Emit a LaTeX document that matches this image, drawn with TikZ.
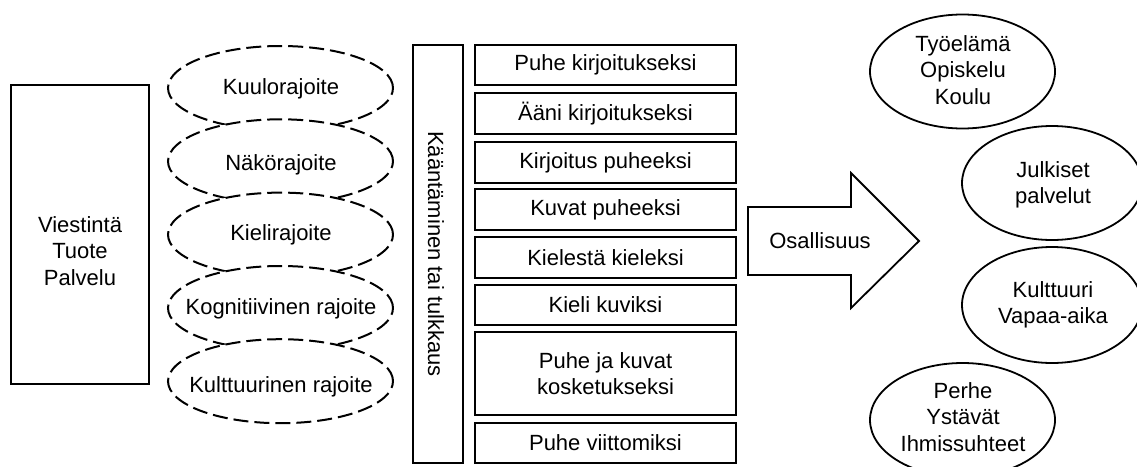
\documentclass[tikz,border=0pt]{standalone}
\usepackage{fontspec}
\setmainfont{Liberation Sans}
\usetikzlibrary{shapes.geometric}
\begin{document}
\begin{tikzpicture}[x=1pt,y=-1pt,
  txt/.style={align=center, inner sep=0pt, font=\fontsize{22}{26.5}\selectfont},
  box/.style={draw=black, line width=2pt, rectangle, inner sep=0pt, fill=white},
  wide/.style={box, minimum width=261pt},
  limit/.style={ellipse, draw=black, fill=white, line width=2pt,
    dash pattern=on 15pt off 6pt, inner sep=0pt,
    minimum width=225pt, minimum height=84pt},
  area/.style={ellipse, draw=black, fill=white, line width=1.8pt, inner sep=0pt,
    minimum width=185pt, minimum height=114pt}]
\useasboundingbox (0,0) rectangle (1137,466);
\clip (0,0) rectangle (1137,466);
\fill[white] (0,0) rectangle (1137,466);

% source box
\node[box, minimum width=138pt, minimum height=299pt] (src) at (80,234.5) {};
\node[txt] (srct) at (80,251) {Viestintä\\Tuote\\Palvelu};

% dashed limitation ellipses, each one laid over the previous
\node[limit] (l1) at (280.5,88) {};
\node[txt] at (281,89) {Kuulorajoite};
\node[limit] (l2) at (280.5,161.3) {};
\node[txt] at (281,165) {Näkörajoite};
\node[limit] (l3) at (280.5,234.6) {};
\node[txt] at (281,235) {Kielirajoite};
\node[limit] (l4) at (280.5,308) {};
\node[txt] at (281,309) {Kognitiivinen rajoite};
\node[limit] (l5) at (280.5,381.2) {};
\node[txt] at (281,387) {Kulttuurinen rajoite};

% translation column
\node[box, minimum width=50pt, minimum height=418pt] (tr) at (438,254) {};
\node[txt, rotate=-90] at (436,254) {Kääntäminen tai tulkkaus};

% methods
\node[wide, minimum height=40pt] (m1) at (605.5,65) {};
\node[txt] at (m1) {Puhe kirjoitukseksi};
\node[wide, minimum height=41pt] (m2) at (605.5,113.5) {};
\node[txt] at (m2) {Ääni kirjoitukseksi};
\node[wide, minimum height=41pt] (m3) at (605.5,162.5) {};
\node[txt] at (m3) {Kirjoitus puheeksi};
\node[wide, minimum height=41pt] (m4) at (605.5,209.5) {};
\node[txt] at (m4) {Kuvat puheeksi};
\node[wide, minimum height=41pt] (m5) at (605.5,257.5) {};
\node[txt] at (m5) {Kielestä kieleksi};
\node[wide, minimum height=40pt] (m6) at (605.5,305) {};
\node[txt] at (m6) {Kieli kuviksi};
\node[wide, minimum height=83pt] (m7) at (605.5,373.5) {};
\node[txt] at (m7) {Puhe ja kuvat\\kosketukseksi};
\node[wide, minimum height=40pt] (m8) at (605.5,443) {};
\node[txt] at (m8) {Puhe viittomiksi};

% participation arrow
\draw[line width=1.8pt, line join=miter, fill=white]
  (748,207) -- (851,207) -- (851,173) -- (919,241) -- (851,308) -- (851,275) -- (748,275) -- cycle;
\node[txt] (osal) at (820,241) {Osallisuus};

% areas of life
\node[area] (a1) at (962.5,71.5) {};
\node[txt] at (963,70) {Työelämä\\Opiskelu\\Koulu};
\node[area, minimum width=180pt] (a2) at (1052,183) {};
\node[txt] at (1053,185) {Julkiset\\palvelut};
\node[area, minimum width=180pt, minimum height=116pt] (a3) at (1052,305) {};
\node[txt] at (1053,305) {Kulttuuri\\Vapaa-aika};
\node[area] (a4) at (962.5,420) {};
\node[txt] at (963,417) {Perhe\\Ystävät\\Ihmissuhteet};
\end{tikzpicture}
\end{document}
